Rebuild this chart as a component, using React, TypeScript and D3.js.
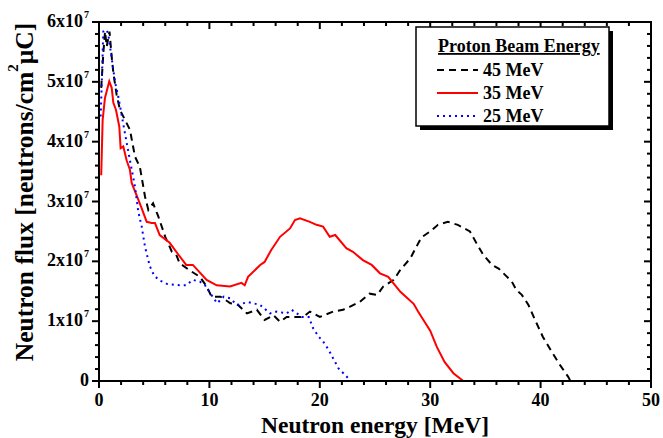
import React from "react";
import * as d3 from "d3";

// Neutron flux spectra, flux in units of 1e7 neutrons/cm^2 uC
const energy45 = [0.2, 0.4, 0.55, 0.7, 0.95, 1.15, 1.3, 1.6, 1.9, 2.5, 2.8, 3.26, 3.7, 4.17, 4.47, 4.9, 5.37, 6.0, 6.6, 7.0, 7.3, 8.2, 9.15, 9.75, 10.2, 11.0, 11.9, 12.6, 13.4, 14.3, 15.0, 15.8, 16.4, 17.0, 17.6, 18.5, 19.1, 20.0, 21.2, 22.1, 22.7, 23.6, 24.5, 25.2, 25.75, 26.7, 27.3, 28.2, 29.2, 30.0, 30.7, 31.6, 32.5, 33.6, 34.2, 34.8, 35.6, 36.2, 36.8, 37.4, 37.8, 38.3, 38.9, 39.5, 40.2, 41.0, 41.75, 42.5, 42.7];
const flux45 = [4.9, 5.5, 5.84, 5.59, 5.84, 5.42, 5.15, 4.78, 4.53, 4.31, 4.2, 3.75, 3.58, 3.08, 2.86, 2.97, 2.75, 2.41, 2.16, 2.11, 1.97, 1.85, 1.74, 1.58, 1.41, 1.41, 1.3, 1.27, 1.13, 1.19, 1.02, 1.1, 0.99, 1.07, 1.07, 1.07, 1.16, 1.07, 1.16, 1.19, 1.24, 1.32, 1.46, 1.44, 1.58, 1.69, 1.86, 2.05, 2.4, 2.5, 2.61, 2.66, 2.61, 2.5, 2.3, 2.11, 1.94, 1.88, 1.77, 1.66, 1.52, 1.44, 1.27, 1.02, 0.74, 0.49, 0.27, 0.07, 0];

const energy35 = [0.2, 0.33, 0.54, 0.93, 1.15, 1.3, 1.54, 1.84, 1.96, 2.2, 2.5, 2.8, 2.96, 3.56, 3.86, 4.32, 4.77, 5.07, 5.5, 6.4, 7.2, 7.9, 8.5, 9.75, 10.66, 11.87, 12.9, 13.2, 13.5, 14.6, 15.0, 15.6, 16.4, 17.3, 17.75, 18.2, 19.1, 19.7, 20.3, 20.9, 21.4, 22.4, 23.0, 23.9, 24.7, 25.45, 26.2, 27.3, 28.5, 28.9, 30.0, 30.6, 31.3, 32.1, 33.0, 45.0];
const flux35 = [3.44, 4.36, 4.73, 5.01, 4.9, 4.65, 4.53, 4.25, 3.89, 3.92, 3.69, 3.53, 3.31, 3.03, 2.89, 2.66, 2.64, 2.64, 2.44, 2.31, 2.11, 1.94, 1.94, 1.69, 1.6, 1.58, 1.64, 1.6, 1.74, 1.94, 1.99, 2.19, 2.41, 2.55, 2.69, 2.72, 2.66, 2.61, 2.58, 2.41, 2.44, 2.22, 2.16, 2.02, 1.94, 1.8, 1.74, 1.49, 1.29, 1.16, 0.84, 0.57, 0.32, 0.13, 0, 0];

const energy25 = [0.15, 0.24, 0.39, 0.7, 0.85, 1.0, 1.3, 1.45, 1.75, 2.05, 2.35, 2.8, 3.26, 3.56, 3.87, 4.17, 4.6, 5.0, 5.5, 6.2, 7.3, 7.9, 8.5, 9.15, 9.6, 10.1, 10.7, 11.3, 11.9, 12.5, 13.5, 14.6, 15.5, 16.1, 17.0, 17.45, 18.4, 19.0, 19.4, 19.9, 20.3, 20.8, 21.2, 21.7, 22.3, 22.7];
const flux25 = [4.42, 4.92, 5.84, 5.87, 5.78, 5.59, 5.2, 5.0, 4.75, 4.45, 4.14, 3.69, 3.25, 2.83, 2.58, 2.24, 1.92, 1.76, 1.68, 1.62, 1.6, 1.6, 1.69, 1.66, 1.6, 1.46, 1.3, 1.41, 1.38, 1.27, 1.32, 1.27, 1.13, 1.16, 1.13, 1.19, 1.07, 1.07, 0.88, 0.74, 0.66, 0.52, 0.38, 0.21, 0.1, 0.02];

const legendLabels = ["45 MeV", "35 MeV", "25 MeV"];

const W = 663;
const H = 438;
const margin = { top: 22, right: 12, bottom: 57, left: 99 };
const font = "'Liberation Serif', 'Times New Roman', serif";

const series = [
  { e: energy45, f: flux45, color: "#000", dash: "7,5" },
  { e: energy35, f: flux35, color: "#ff0000", dash: null },
  { e: energy25, f: flux25, color: "#0000ff", dash: "2,4" },
];

export default function App() {
  const x = d3.scaleLinear().domain([0, 50]).range([margin.left, W - margin.right]);
  const y = d3.scaleLinear().domain([0, 6]).range([H - margin.bottom, margin.top]);
  const x0 = x.range()[0], x1 = x.range()[1];
  const y0 = y.range()[0], y1 = y.range()[1];

  const line = d3
    .line<[number, number]>()
    .x((d) => x(d[0]))
    .y((d) => y(d[1]));

  const xMajor = x.ticks(5);
  const xMinor = x.ticks(25).filter((t) => !xMajor.includes(t));
  const yMajor = y.ticks(6);
  const yMinor = y.ticks(30).filter((t) => !yMajor.includes(t));

  const lx = 416, ly = 27, lw = 193, lh = 99;

  return (
    <svg width={W} height={H} style={{ position: "absolute", left: 0, top: 0, background: "#fff" }} fontFamily={font}>
      {series.map((s, i) => (
        <path
          key={i}
          d={line(s.e.map((e, j) => [e, s.f[j]] as [number, number])) || ""}
          fill="none"
          stroke={s.color}
          strokeWidth={2}
          strokeDasharray={s.dash || undefined}
        />
      ))}

      {/* frame */}
      <rect x={x0} y={y1} width={x1 - x0} height={y0 - y1} fill="none" stroke="#000" strokeWidth={2} />

      {/* bottom ticks (outward) and top ticks (inward) */}
      {xMajor.map((t) => (
        <g key={"xm" + t}>
          <line x1={x(t)} x2={x(t)} y1={y0} y2={y0 + 7} stroke="#000" strokeWidth={2} />
          <line x1={x(t)} x2={x(t)} y1={y1} y2={y1 + 7} stroke="#000" strokeWidth={2} />
          <text x={x(t)} y={y0 + 25} textAnchor="middle" fontSize={18} fontWeight="bold">{t}</text>
        </g>
      ))}
      {xMinor.map((t) => (
        <g key={"xn" + t}>
          <line x1={x(t)} x2={x(t)} y1={y0} y2={y0 + 4} stroke="#000" strokeWidth={2} />
          <line x1={x(t)} x2={x(t)} y1={y1} y2={y1 + 4} stroke="#000" strokeWidth={2} />
        </g>
      ))}

      {/* left ticks (outward) and right ticks (inward) */}
      {yMajor.map((t) => (
        <g key={"ym" + t}>
          <line x1={x0 - 7} x2={x0} y1={y(t)} y2={y(t)} stroke="#000" strokeWidth={2} />
          <line x1={x1 - 7} x2={x1} y1={y(t)} y2={y(t)} stroke="#000" strokeWidth={2} />
          <text x={t === 0 ? 89 : 83} y={y(t) + 5} textAnchor="end" fontSize={18} fontWeight="bold">
            {t === 0 ? "0" : `${t}x10`}
          </text>
          {t !== 0 && (
            <text x={84} y={y(t) - 4} fontSize={10} fontWeight="bold">7</text>
          )}
        </g>
      ))}
      {yMinor.map((t) => (
        <g key={"yn" + t}>
          <line x1={x0 - 4} x2={x0} y1={y(t)} y2={y(t)} stroke="#000" strokeWidth={2} />
          <line x1={x1 - 4} x2={x1} y1={y(t)} y2={y(t)} stroke="#000" strokeWidth={2} />
        </g>
      ))}

      {/* axis titles */}
      <text x={(x0 + x1) / 2} y={432.5} textAnchor="middle" fontSize={23.5} fontWeight="bold">
        Neutron energy [MeV]
      </text>
      <text
        transform={`translate(33,192) rotate(-90)`}
        textAnchor="middle"
        fontSize={25.5}
        fontWeight="bold"
      >
        Neutron flux [neutrons/cm
        <tspan dy={-15} fontSize={15}>2</tspan>
        <tspan dy={15}>{"\u03bcC]"}</tspan>
      </text>

      {/* legend */}
      <rect x={lx + 4} y={ly + 4} width={lw} height={lh} fill="#000" />
      <rect x={lx} y={ly} width={lw} height={lh} fill="#fff" stroke="#000" strokeWidth={1.5} />
      <text x={438} y={52} fontSize={18} fontWeight="bold" textDecoration="underline">
        Proton Beam Energy
      </text>
      {series.map((s, i) => (
        <g key={"lg" + i}>
          <line
            x1={437}
            x2={478}
            y1={70 + i * 23}
            y2={70 + i * 23}
            stroke={s.color}
            strokeWidth={2}
            strokeDasharray={s.dash || undefined}
          />
          <text x={483} y={76 + i * 23} fontSize={18} fontWeight="bold">{legendLabels[i]}</text>
        </g>
      ))}
    </svg>
  );
}
